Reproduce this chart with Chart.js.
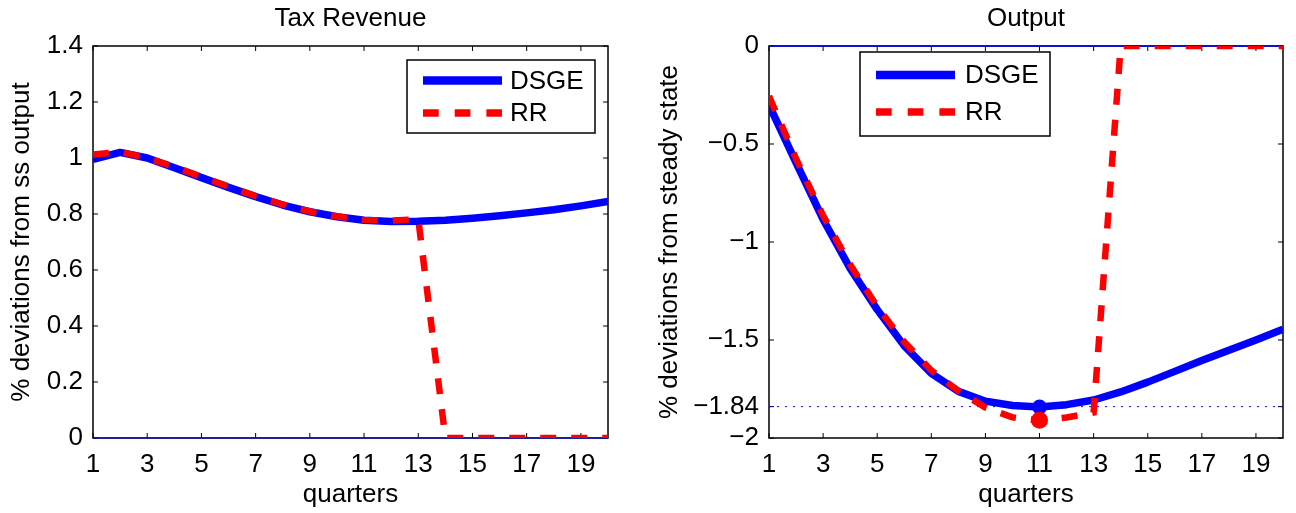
<!DOCTYPE html>
<html>
<head>
<meta charset="utf-8">
<script src="https://cdn.jsdelivr.net/npm/chart.js@4.4.1/dist/chart.umd.min.js"></script>
<style>
  body { margin: 0; background: #fff; }
  #wrap { display: flex; width: 1296px; height: 513px; }
  canvas { display: block; }
</style>
</head>
<body>
<div id="wrap">
  <canvas id="canvas_1" width="648" height="513"></canvas>
  <canvas id="canvas_2" width="648" height="513"></canvas>
</div>
<script>
// data
const quarters = [1, 2, 3, 4, 5, 6, 7, 8, 9, 10, 11, 12, 13, 14, 15, 16, 17, 18, 19, 20];
const xTicks = [1, 3, 5, 7, 9, 11, 13, 15, 17, 19];
const taxTicks = [0, 0.2, 0.4, 0.6, 0.8, 1, 1.2, 1.4];
const outTicks = [-2, -1.84, -1.5, -1, -0.5, 0];

const taxDSGE = [0.995, 1.02, 1.0, 0.965, 0.93, 0.895, 0.862, 0.832, 0.808, 0.79, 0.778, 0.773, 0.774, 0.778, 0.785, 0.794, 0.804, 0.815, 0.829, 0.845];
const taxRR = [1.012, 1.022, 1.0, 0.968, 0.933, 0.898, 0.864, 0.834, 0.809, 0.791, 0.779, 0.776, 0.782, 0, 0, 0, 0, 0, 0, 0];

const outDSGE = [-0.3, -0.595, -0.885, -1.135, -1.345, -1.53, -1.67, -1.762, -1.812, -1.834, -1.842, -1.83, -1.806, -1.765, -1.715, -1.66, -1.605, -1.552, -1.5, -1.445];
const outRR = [-0.255, -0.575, -0.865, -1.115, -1.33, -1.51, -1.655, -1.76, -1.845, -1.895, -1.91, -1.895, -1.87, 0, 0, 0, 0, 0, 0, 0];

const zeroLevel = 0;
const troughLevel = -1.84;
const troughQuarter = 11;

const FONT = "'Liberation Sans', Arial, Helvetica, sans-serif";
const BLUE = '#0000ff';
const RED = '#ff0000';

function pts(vals) {
  return quarters.map((q, i) => ({ x: q, y: vals[i] }));
}
function flat(level) {
  return quarters.map(q => ({ x: q, y: level }));
}
function fmt(v) {
  return v < 0 ? '\u2212' + Math.abs(v) : String(v);
}

// box round the axes, inward ticks, legend in a frame (matlab look)
const matlabBox = {
  id: 'matlabBox',
  beforeDatasetsDraw(chart) {
    const { ctx, chartArea: a, scales: { x, y } } = chart;
    ctx.save();
    ctx.strokeStyle = '#000';
    ctx.lineWidth = 1.5;
    ctx.strokeRect(a.left, a.top, a.right - a.left, a.bottom - a.top);
    ctx.beginPath();
    x.ticks.forEach(t => {
      const px = x.getPixelForValue(t.value);
      ctx.moveTo(px, a.bottom); ctx.lineTo(px, a.bottom - 5);
      ctx.moveTo(px, a.top); ctx.lineTo(px, a.top + 5);
    });
    y.ticks.forEach(t => {
      const py = y.getPixelForValue(t.value);
      ctx.moveTo(a.left, py); ctx.lineTo(a.left + 5, py);
      ctx.moveTo(a.right, py); ctx.lineTo(a.right - 5, py);
    });
    ctx.lineWidth = 1;
    ctx.stroke();
    ctx.restore();
  },
  afterDraw(chart, args, opts) {
    const ctx = chart.ctx;
    const b = opts.box;
    ctx.save();
    ctx.fillStyle = '#fff';
    ctx.fillRect(b[0], b[1], b[2], b[3]);
    ctx.strokeStyle = '#000';
    ctx.lineWidth = 1.5;
    ctx.strokeRect(b[0], b[1], b[2], b[3]);
    const items = chart.data.datasets.filter(d => d.label);
    items.forEach((d, i) => {
      const yy = opts.rows[i];
      ctx.beginPath();
      ctx.setLineDash(d.borderDash ? [15.7, 16] : []);
      ctx.strokeStyle = d.borderColor;
      ctx.lineWidth = d.borderWidth + 1;
      ctx.moveTo(opts.sample[0], yy);
      ctx.lineTo(opts.sample[1], yy);
      ctx.stroke();
      ctx.setLineDash([]);
      ctx.fillStyle = '#000';
      ctx.font = '26px ' + FONT;
      ctx.textBaseline = 'middle';
      ctx.fillText(d.label, opts.textX, yy + 1);
    });
    ctx.restore();
  }
};

function makeChart(id, c) {
  const ctx = document.getElementById(id).getContext('2d');
  return new Chart(ctx, {
    type: 'line',
    data: { datasets: c.datasets },
    options: {
      responsive: false,
      animation: false,
      events: [],
      layout: { padding: { left: 0, right: c.padRight, top: 0, bottom: 0 } },
      scales: {
        x: {
          type: 'linear',
          min: 1,
          max: 20,
          grid: { display: false, drawTicks: false },
          border: { display: false },
          afterBuildTicks: s => { s.ticks = xTicks.map(v => ({ value: v })); },
          afterFit: s => { s.height = 75; },
          ticks: { font: { size: 26, family: FONT }, color: '#000', padding: 11, autoSkip: false, maxRotation: 0 },
          title: { display: true, text: 'quarters', color: '#000', font: { size: 26, family: FONT }, padding: { top: 0, bottom: 3 } }
        },
        top: {
          type: 'linear',
          position: 'top',
          min: 1,
          max: 20,
          grid: { display: false, drawTicks: false },
          border: { display: false },
          ticks: { display: false },
          afterFit: s => { s.height = 46; },
          title: { display: true, text: c.title, color: '#000', font: { size: 26, family: FONT }, padding: { top: 3, bottom: 0 } }
        },
        y: {
          min: c.yMin,
          max: c.yMax,
          grid: { display: false, drawTicks: false },
          border: { display: false },
          afterBuildTicks: s => { s.ticks = c.yTicks.map(v => ({ value: v })); },
          afterFit: s => { s.width = c.yWidth; },
          ticks: { font: { size: 26, family: FONT }, color: '#000', padding: 10, autoSkip: false, callback: v => fmt(v) },
          title: { display: true, text: c.yLabel, color: '#000', font: { size: 26, family: FONT }, padding: { top: 6, bottom: 0 } }
        }
      },
      plugins: {
        legend: { display: false },
        tooltip: { enabled: false },
        matlabBox: c.legend
      }
    },
    plugins: [matlabBox]
  });
}

// Tax Revenue
makeChart('canvas_1', {
  title: 'Tax Revenue',
  yLabel: '% deviations from ss output',
  yMin: 0, yMax: 1.4, yTicks: taxTicks,
  yWidth: 93, padRight: 40,
  legend: { box: [407, 60, 188, 73], rows: [80.5, 113], sample: [423, 502], textX: 510 },
  datasets: [{
    label: 'DSGE', data: pts(taxDSGE), borderColor: BLUE, borderWidth: 7.5,
    pointRadius: 0, clip: 0, order: 1, borderJoinStyle: 'round'
  }, {
    label: 'RR', data: pts(taxRR), borderColor: RED, borderWidth: 6.5, borderDash: [16, 15],
    pointRadius: 0, clip: 0, order: 0
  }, {
    data: flat(zeroLevel), borderColor: BLUE, borderWidth: 1, pointRadius: 0, clip: 2, order: 2
  }]
});

// Output
makeChart('canvas_2', {
  title: 'Output',
  yLabel: '% deviations from steady state',
  yMin: -2, yMax: 0, yTicks: outTicks,
  yWidth: 121, padRight: 13,
  legend: { box: [212, 52, 190, 84], rows: [75, 112], sample: [228, 307], textX: 317 },
  datasets: [{
    label: 'DSGE', data: pts(outDSGE), borderColor: BLUE, borderWidth: 7.5,
    pointRadius: ctx => quarters[ctx.dataIndex] === troughQuarter ? 7.5 : 0,
    pointBackgroundColor: BLUE, pointBorderWidth: 0,
    clip: 0, order: 1, borderJoinStyle: 'round'
  }, {
    label: 'RR', data: pts(outRR), borderColor: RED, borderWidth: 6.5, borderDash: [16, 15],
    pointRadius: ctx => quarters[ctx.dataIndex] === troughQuarter ? 8.5 : 0,
    pointBackgroundColor: RED, pointBorderWidth: 0,
    clip: 0, order: 0
  }, {
    data: flat(zeroLevel), borderColor: BLUE, borderWidth: 1.5, pointRadius: 0, clip: 2, order: 2
  }, {
    data: flat(troughLevel), borderColor: BLUE, borderWidth: 1, borderDash: [2, 6], pointRadius: 0, clip: 0, order: 2
  }]
});
</script>
</body>
</html>
